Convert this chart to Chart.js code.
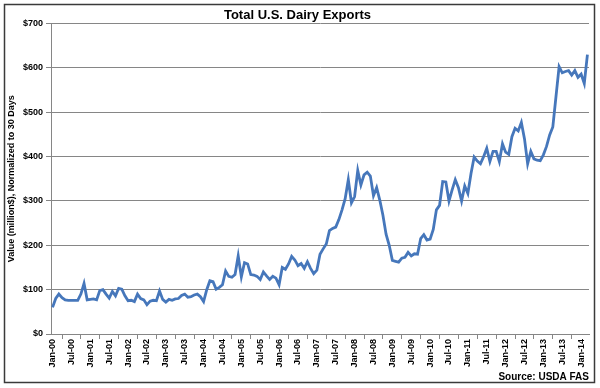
<!DOCTYPE html>
<html>
<head>
<meta charset="utf-8">
<script src="https://cdn.jsdelivr.net/npm/chart.js@4"></script>
<style>
  html, body { margin: 0; padding: 0; background: #fff; }
  #wrap { width: 600px; height: 388px; }
</style>
</head>
<body>
<div id="wrap"><canvas id="dairyChart" width="600" height="388"></canvas></div>
<script>
const monthNames = ["Jan", "Feb", "Mar", "Apr", "May", "Jun", "Jul", "Aug", "Sep", "Oct", "Nov", "Dec"];
const yearCodes = ["00", "01", "02", "03", "04", "05", "06", "07", "08", "09", "10", "11", "12", "13", "14"];

// monthly export value, million $, normalized to 30 days
const exports2000 = [60, 80, 90, 82, 77, 76, 76, 76, 76, 90, 114, 77];
const exports2001 = [78, 79, 77, 98, 100, 90, 81, 96, 86, 103, 101, 86];
const exports2002 = [75, 76, 73, 90, 80, 77, 66, 74, 76, 75, 97, 78];
const exports2003 = [72, 78, 76, 79, 80, 87, 90, 83, 84, 88, 90, 84];
const exports2004 = [73, 100, 120, 118, 101, 105, 111, 142, 130, 128, 134, 176];
const exports2005 = [129, 161, 158, 134, 133, 130, 123, 140, 131, 123, 130, 126];
const exports2006 = [111, 150, 146, 158, 175, 167, 154, 159, 148, 163, 148, 136];
const exports2007 = [144, 180, 192, 203, 233, 238, 241, 258, 280, 305, 348, 296];
const exports2008 = [310, 369, 336, 359, 365, 356, 312, 330, 302, 268, 225, 200];
const exports2009 = [166, 164, 162, 171, 173, 184, 176, 181, 180, 215, 224, 212];
const exports2010 = [214, 236, 280, 290, 344, 343, 300, 325, 348, 330, 300, 334];
const exports2011 = [317, 362, 399, 390, 384, 400, 419, 389, 412, 412, 389, 429];
const exports2012 = [410, 405, 445, 464, 458, 477, 440, 384, 412, 395, 392, 391];
const exports2013 = [404, 423, 449, 467, 535, 603, 589, 592, 594, 584, 594, 579];
const exports2014 = [586, 565, 630];

const yTicks = [0, 100, 200, 300, 400, 500, 600, 700];

const exportValues = [].concat(
  exports2000, exports2001, exports2002, exports2003, exports2004,
  exports2005, exports2006, exports2007, exports2008, exports2009,
  exports2010, exports2011, exports2012, exports2013, exports2014
);

const categories = [];
yearCodes.forEach(y => monthNames.forEach(m => categories.push(m + "-" + y)));
categories.length = exportValues.length;

const FONT = "'Liberation Sans Narrow', 'Liberation Sans', sans-serif";
const AXIS_GRAY = "#868686";

/*
 OUTER FRAME
*/
const framePlugin = {
  id: "frame",
  afterDraw(chart) {
    const ctx = chart.ctx;
    ctx.save();
    ctx.strokeStyle = "#3a3a3a";
    ctx.lineWidth = 1.5;
    ctx.strokeRect(4.5, 4.5, 590, 378);
    ctx.restore();
  }
};

new Chart(document.getElementById("dairyChart"), {
  type: "line",
  data: {
    labels: categories,
    datasets: [
      {
        label: "Total U.S. Dairy Exports",
        data: exportValues,
        borderColor: "#4677BB",
        borderWidth: 2.8,
        pointRadius: 0,
        tension: 0,
        fill: false
      }
    ]
  },
  options: {
    responsive: false,
    animation: false,
    layout: {
      padding: { left: 6, right: 11, top: 0, bottom: 5 }
    },
    plugins: {
      legend: { display: false },
      tooltip: { enabled: false },
      title: {
        display: true,
        text: "Total U.S. Dairy Exports",
        color: "#000",
        font: { family: FONT, size: 13, weight: "bold" },
        padding: { top: 8, bottom: 0 }
      },
      subtitle: {
        display: true,
        position: "bottom",
        align: "end",
        text: "Source: USDA FAS",
        color: "#000",
        font: { family: FONT, size: 10, weight: "bold" },
        padding: 0
      }
    },
    scales: {
      x: {
        offset: true,
        afterFit: s => { s.height = 37; },
        grid: {
          offset: true,
          drawOnChartArea: false,
          drawTicks: true,
          tickLength: 5,
          color: AXIS_GRAY
        },
        border: { color: AXIS_GRAY },
        ticks: {
          autoSkip: false,
          minRotation: 90,
          maxRotation: 90,
          padding: 0,
          color: "#000",
          font: { family: FONT, size: 9, weight: "bold" },
          callback: (value, index) => (index % 6 === 0 ? categories[index] : null)
        }
      },
      y: {
        min: 0,
        max: 700,
        afterFit: s => { s.width = 45; },
        afterBuildTicks: s => { s.ticks = yTicks.map(v => ({ value: v })); },
        grid: {
          color: AXIS_GRAY,
          tickLength: 5
        },
        border: { color: AXIS_GRAY },
        ticks: {
          padding: 3,
          color: "#000",
          font: { family: FONT, size: 9, weight: "bold" },
          callback: v => "$" + v
        },
        title: {
          display: true,
          text: "Value (million$), Normalized to 30 Days",
          color: "#000",
          padding: 0,
          font: { family: FONT, size: 9, weight: "bold" }
        }
      }
    }
  },
  plugins: [framePlugin]
});
</script>
</body>
</html>
